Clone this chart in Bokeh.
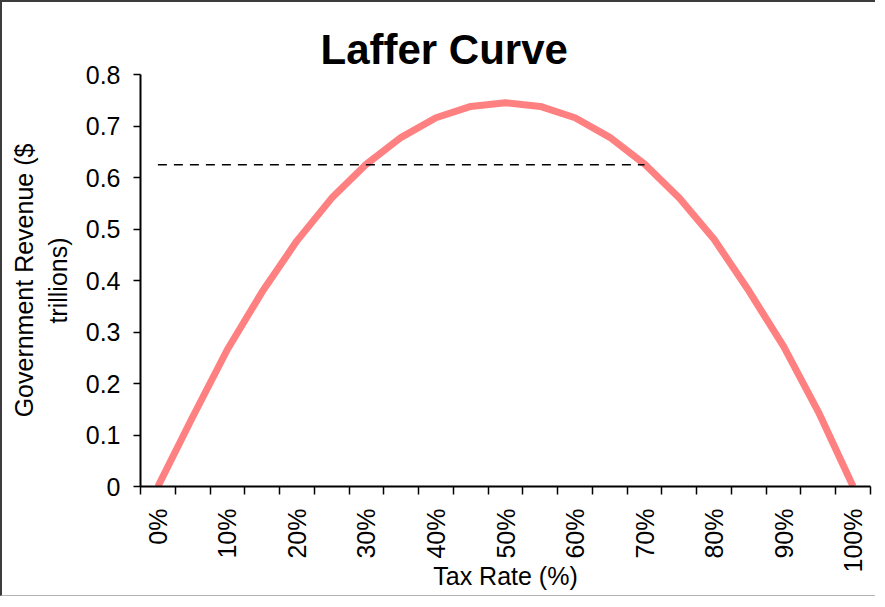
from math import pi
from bokeh.plotting import figure
from bokeh.models import Range1d, FixedTicker, CustomJSTickFormatter
from bokeh.embed import file_html
from bokeh.resources import INLINE

# ---- data ----
tax_rate = [0, 5, 10, 15, 20, 25, 30, 35, 40, 45, 50,
            55, 60, 65, 70, 75, 80, 85, 90, 95, 100]
revenue = [0.0, 0.135, 0.266, 0.378, 0.477, 0.560, 0.626, 0.678, 0.716, 0.738, 0.745,
           0.738, 0.716, 0.678, 0.626, 0.560, 0.480, 0.380, 0.272, 0.145, 0.0]
ref_rate = [0, 70]
ref_revenue = [0.625, 0.625]
y_ticks = [0, 0.1, 0.2, 0.3, 0.4, 0.5, 0.6, 0.7, 0.8]
x_label_ticks = [0, 10, 20, 30, 40, 50, 60, 70, 80, 90, 100]

step = tax_rate[1] - tax_rate[0]
boundaries = [r - step / 2 for r in tax_rate] + [tax_rate[-1] + step / 2]

FONT = "Liberation Sans"

p = figure(width=875, height=596, output_backend="svg", toolbar_location=None,
           x_range=Range1d(boundaries[0], boundaries[-1]), y_range=Range1d(0, 0.8),
           min_border_left=138, min_border_right=7, min_border_top=72, min_border_bottom=112,
           title="Laffer Curve",
           styles={"border-top": "2px solid #3c3c3c", "border-left": "2px solid #3c3c3c",
                   "border-bottom": "1px solid #b4b4b4"})
p.outline_line_color = None
p.xgrid.visible = False
p.ygrid.visible = False
p.background_fill_color = "white"
p.border_fill_color = "white"

p.title.text_font = FONT
p.title.text_font_size = "42px"
p.title.text_font_style = "bold"
p.title.text_color = "black"
p.title.align = "left"
p.title.offset = 180
p.title.standoff = 4

p.line(tax_rate, revenue, line_color="#ff8080", line_width=7, line_join="round")
p.line(ref_rate, ref_revenue, line_color="black", line_width=1.5, line_dash="9 7")

xa = p.xaxis[0]
xa.ticker = FixedTicker(ticks=x_label_ticks, minor_ticks=boundaries)
xa.formatter = CustomJSTickFormatter(code="return tick.toFixed(0) + '%';")
xa.major_tick_out = 0
xa.major_tick_in = 0
xa.minor_tick_out = 8
xa.minor_tick_in = 0
xa.minor_tick_line_color = "black"
xa.minor_tick_line_width = 1.5
xa.axis_line_color = "black"
xa.axis_line_width = 2
xa.major_label_orientation = pi / 2
xa.major_label_standoff = 14
xa.major_label_text_font = FONT
xa.major_label_text_font_size = "25px"
xa.major_label_text_color = "black"
xa.axis_label = "Tax Rate (%)"
xa.axis_label_text_font = FONT
xa.axis_label_text_font_size = "25px"
xa.axis_label_text_font_style = "normal"
xa.axis_label_text_color = "black"
xa.axis_label_text_line_height = 1.0
xa.axis_label_standoff = -13

ya = p.yaxis[0]
ya.ticker = FixedTicker(ticks=y_ticks, minor_ticks=[])
ya.formatter = CustomJSTickFormatter(code="return tick == 0 ? '0' : tick.toFixed(1);")
ya.major_tick_out = 7
ya.major_tick_in = 0
ya.major_tick_line_color = "black"
ya.major_tick_line_width = 1.5
ya.axis_line_color = "black"
ya.axis_line_width = 2
ya.major_label_standoff = 13
ya.major_label_text_font = FONT
ya.major_label_text_font_size = "25px"
ya.major_label_text_color = "black"
ya.axis_label = "Government Revenue ($\ntrillions)"
ya.axis_label_text_font = FONT
ya.axis_label_text_font_size = "25px"
ya.axis_label_text_font_style = "normal"
ya.axis_label_text_color = "black"
ya.axis_label_standoff = 11

open("out.html", "w").write(file_html(p, INLINE))
